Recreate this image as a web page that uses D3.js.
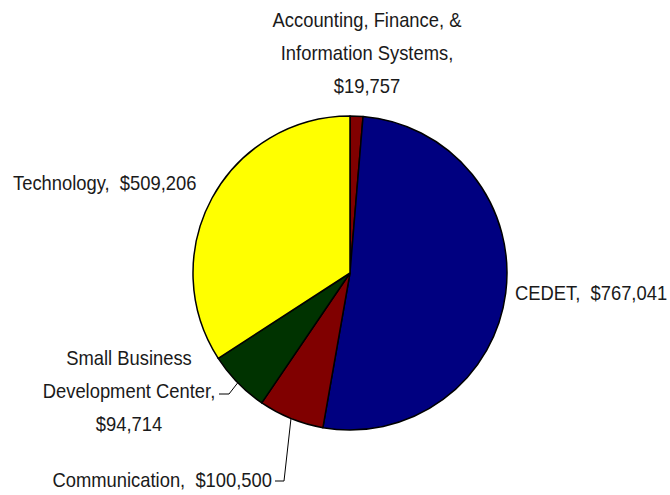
<!DOCTYPE html>
<html>
<head>
<meta charset="utf-8">
<script src="https://cdn.jsdelivr.net/npm/d3@7"></script>
<style>
  body { margin: 0; background: #fff; }
  text { font-family: "Liberation Sans Narrow", "Arial Narrow", "Liberation Sans", Arial, sans-serif; font-size: 21px; fill: #1a1a1a; }
</style>
</head>
<body>
<div id="chart"></div>
<script>
var departments = ["Accounting, Finance, & Information Systems", "CEDET", "Communication", "Small Business Development Center", "Technology"];
var amounts = [19757, 767041, 100500, 94714, 509206];
var colors = ["#800000", "#000080", "#800000", "#003300", "#ffff00"];

var width = 670, height = 495;
var cx = 350, cy = 273, radius = 157;
var squeeze = 0.875; // narrow face is not installed, so compress the regular one

var svg = d3.select("#chart").append("svg")
    .attr("width", width)
    .attr("height", height);

var g = svg.append("g")
    .attr("transform", "translate(" + cx + "," + cy + ")");

var data = departments.map(function(d, i) { return {name: d, value: amounts[i], color: colors[i]}; });

var pie = d3.pie()
    .sort(null)
    .value(function(d) { return d.value; });

var arc = d3.arc().innerRadius(0).outerRadius(radius);
var edge = d3.arc().innerRadius(radius).outerRadius(radius);

var arcs = pie(data);

g.selectAll("path.slice")
    .data(arcs)
    .enter().append("path")
    .attr("class", "slice")
    .attr("d", arc)
    .style("fill", function(d) { return d.data.color; })
    .style("stroke", "#000")
    .style("stroke-width", 1.5)
    .style("stroke-linejoin", "round");

var fmt = d3.format("$,");

// label layout (page coords): lines, anchor, x, first baseline
var labels = [
  {lines: ["Accounting, Finance, &", "Information Systems,", fmt(amounts[0])], anchor: "middle", x: 367, y: 27},
  {lines: ["CEDET,\u00a0\u00a0" + fmt(amounts[1])], anchor: "start", x: 515, y: 300},
  {lines: ["Communication,\u00a0\u00a0" + fmt(amounts[2])], anchor: "end", x: 272, y: 487},
  {lines: ["Small Business", "Development Center,", fmt(amounts[3])], anchor: "middle", x: 129, y: 365},
  {lines: ["Technology,\u00a0\u00a0" + fmt(amounts[4])], anchor: "start", x: 13, y: 190}
];
var lineH = 33;

labels.forEach(function(l) {
  var t = svg.append("g")
      .attr("transform", "translate(" + l.x + "," + l.y + ") scale(" + squeeze + ",1)")
    .append("text")
      .attr("text-anchor", l.anchor);
  l.lines.forEach(function(s, i) {
    t.append("tspan")
      .attr("x", 0)
      .attr("y", i * lineH)
      .text(s);
  });
});

// leader lines for the two small bottom slices
var leaders = [
  {i: 2, ex: 284, ey: 481, tx: 275},
  {i: 3, ex: 229, ey: 394, tx: 219}
];
leaders.forEach(function(l) {
  var p = edge.centroid(arcs[l.i]);
  svg.append("polyline")
    .attr("points", [[cx + p[0], cy + p[1]], [l.ex, l.ey], [l.tx, l.ey]].map(function(q) { return q.join(","); }).join(" "))
    .style("fill", "none")
    .style("stroke", "#000")
    .style("stroke-width", 1);
});
</script>
</body>
</html>
